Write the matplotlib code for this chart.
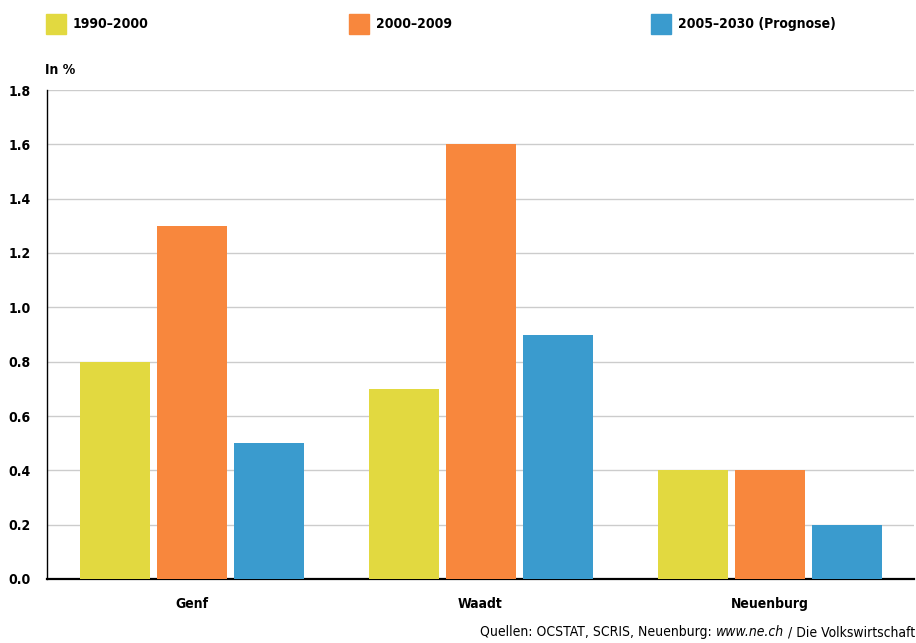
import numpy as np
import matplotlib
matplotlib.use("Agg")
import matplotlib.pyplot as plt
from matplotlib.patches import Rectangle

regions = ["Genf", "Waadt", "Neuenburg"]
series_names = ["1990–2000", "2000–2009", "2005–2030 (Prognose)"]
v_1990_2000 = [0.8, 0.7, 0.4]
v_2000_2009 = [1.3, 1.6, 0.4]
v_2005_2030 = [0.5, 0.9, 0.2]
yticks = [0.0, 0.2, 0.4, 0.6, 0.8, 1.0, 1.2, 1.4, 1.6, 1.8]

colors = ["#E2D940", "#F8873D", "#3A9BCE"]
font = dict(family="DejaVu Sans", fontstretch="condensed", fontweight="bold")

fig = plt.figure(figsize=(9.16, 6.43), dpi=100)
W, H = 916, 643
ax = fig.add_axes([47 / W, (H - 579) / H, (914 - 47) / W, (579 - 90) / H])

x = np.arange(len(regions))
width = 70 / 289
step = 77 / 289
for i, vals in enumerate([v_1990_2000, v_2000_2009, v_2005_2030]):
    ax.bar(x + (i - 1) * step, vals, width, color=colors[i], zorder=3)

ax.set_xlim(-0.5, 2.5)
ax.set_ylim(0, 1.8)
ax.set_yticks(yticks)
ax.set_yticklabels([f"{t:.1f}" for t in yticks], fontsize=10, **font)
ax.set_xticks(x)
ax.set_xticklabels(regions, fontsize=10, **font)
ax.tick_params(axis="both", length=0)
ax.tick_params(axis="y", pad=12)
ax.tick_params(axis="x", pad=13)
ax.grid(axis="y", color="#CCCCCC", linewidth=1, zorder=0)
for s in ["top", "right"]:
    ax.spines[s].set_visible(False)
ax.spines["left"].set_linewidth(1)
ax.spines["bottom"].set_linewidth(1.6)

fig.text(45 / W, 1 - 70 / H, "In %", fontsize=10, va="center", ha="left", **font)

# legend
leg_x = [46, 349, 651]
for i, name in enumerate(series_names):
    fig.patches.append(Rectangle((leg_x[i] / W, 1 - 34 / H), 20 / W, 20 / H,
                                 transform=fig.transFigure, color=colors[i]))
    fig.text((leg_x[i] + 27) / W, 1 - 24 / H, name, fontsize=10, va="center",
             ha="left", **font)

# source line, built right to left
src = dict(fontsize=10, va="center", ha="right", family="DejaVu Sans",
           fontstretch="condensed")
parts = [("Quellen: OCSTAT, SCRIS, Neuenburg: ", "normal"),
         ("www.ne.ch", "italic"),
         (" / Die Volkswirtschaft", "normal")]
renderer = fig.canvas.get_renderer()
xr = 915
for txt, style in reversed(parts):
    t = fig.text(xr / W, 1 - 632 / H, txt, fontstyle=style, **src)
    xr -= t.get_window_extent(renderer).width

fig.savefig("out.png", dpi=100)
